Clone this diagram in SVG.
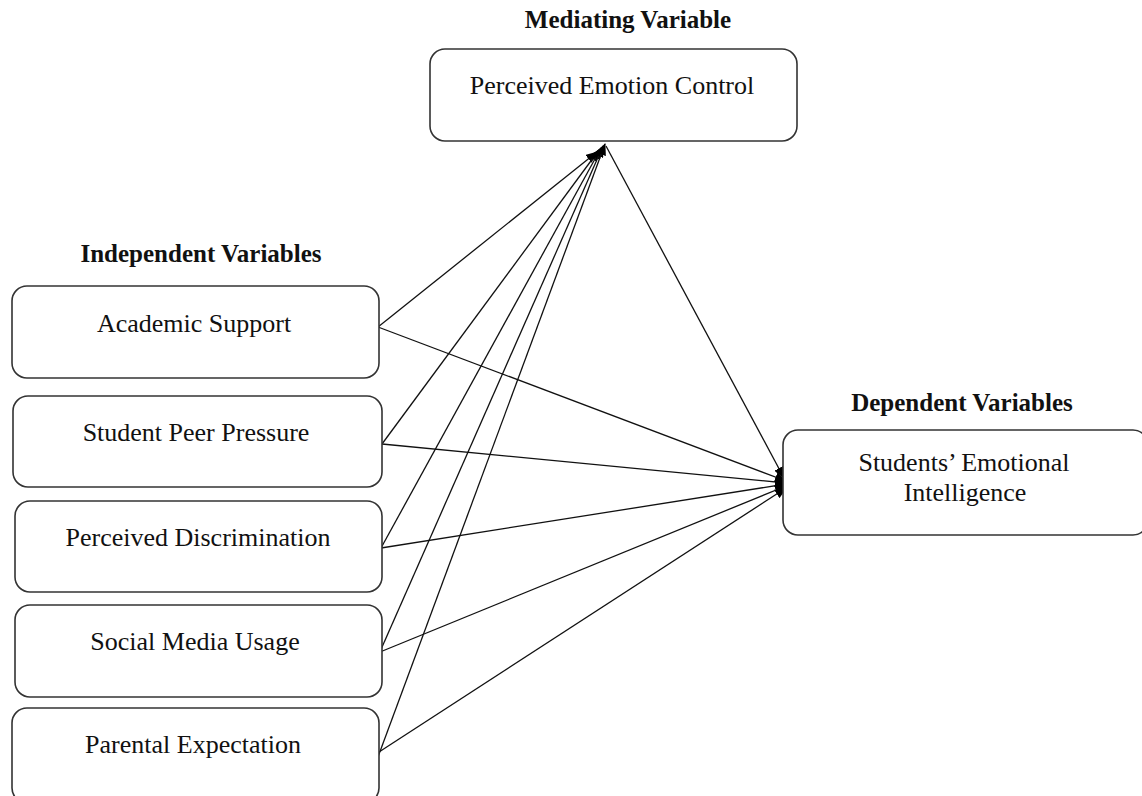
<svg xmlns="http://www.w3.org/2000/svg" width="1142" height="796" viewBox="0 0 1142 796">
<style>
.box{fill:#fff;stroke:#333;stroke-width:1.6}
.t{font-family:"Liberation Serif","Times New Roman",serif;font-size:26px;fill:#111;text-anchor:middle}
.h{font-family:"Liberation Serif","Times New Roman",serif;font-size:25px;font-weight:bold;fill:#111;text-anchor:middle}
.c{stroke:#111;stroke-width:1.3;fill:none;marker-end:url(#ah)}
</style>
<defs>
<marker id="ah" viewBox="0 0 12 10" refX="11" refY="5" markerWidth="12" markerHeight="10" markerUnits="userSpaceOnUse" orient="auto">
<path d="M0,0 L12,5 L0,10 Z" fill="#000"/>
</marker>
</defs>
<rect width="1142" height="796" fill="#fff"/>
<text class="h" x="628" y="28">Mediating Variable</text>
<text class="h" x="201" y="262">Independent Variables</text>
<text class="h" x="962" y="411">Dependent Variables</text>
<g id="connectors">
<line class="c" x1="378" y1="327" x2="597" y2="152"/>
<line class="c" x1="378" y1="327" x2="786" y2="481"/>
<line class="c" x1="382" y1="444" x2="599" y2="150"/>
<line class="c" x1="382" y1="444" x2="786" y2="483"/>
<line class="c" x1="381" y1="548" x2="601" y2="148"/>
<line class="c" x1="381" y1="548" x2="786" y2="484"/>
<line class="c" x1="375" y1="663" x2="603" y2="146"/>
<line class="c" x1="380" y1="652" x2="786" y2="486"/>
<line class="c" x1="375" y1="765" x2="605" y2="144"/>
<line class="c" x1="379" y1="752" x2="786" y2="488"/>
<line class="c" x1="606" y1="146" x2="784" y2="478"/>
</g>
<g id="mediator">
<rect class="box" x="430" y="49" width="367" height="92" rx="15"/>
<text class="t" x="612" y="94">Perceived Emotion Control</text>
</g>
<g id="academic">
<rect class="box" x="12" y="286" width="367" height="92" rx="15"/>
<text class="t" x="194" y="332">Academic Support</text>
</g>
<g id="peer">
<rect class="box" x="13" y="396" width="369" height="91" rx="15"/>
<text class="t" x="196" y="441">Student Peer Pressure</text>
</g>
<g id="discrimination">
<rect class="box" x="15" y="501" width="367" height="91" rx="15"/>
<text class="t" x="198" y="546">Perceived Discrimination</text>
</g>
<g id="social">
<rect class="box" x="15" y="605" width="367" height="92" rx="15"/>
<text class="t" x="195" y="650">Social Media Usage</text>
</g>
<g id="parental">
<rect class="box" x="12" y="708" width="367" height="95" rx="15"/>
<text class="t" x="193" y="753">Parental Expectation</text>
</g>
<g id="dependent">
<rect class="box" x="783" y="430" width="365" height="105" rx="15"/>
<text class="t" x="964" y="471">Students’ Emotional</text>
<text class="t" x="965" y="501">Intelligence</text>
</g>
</svg>
